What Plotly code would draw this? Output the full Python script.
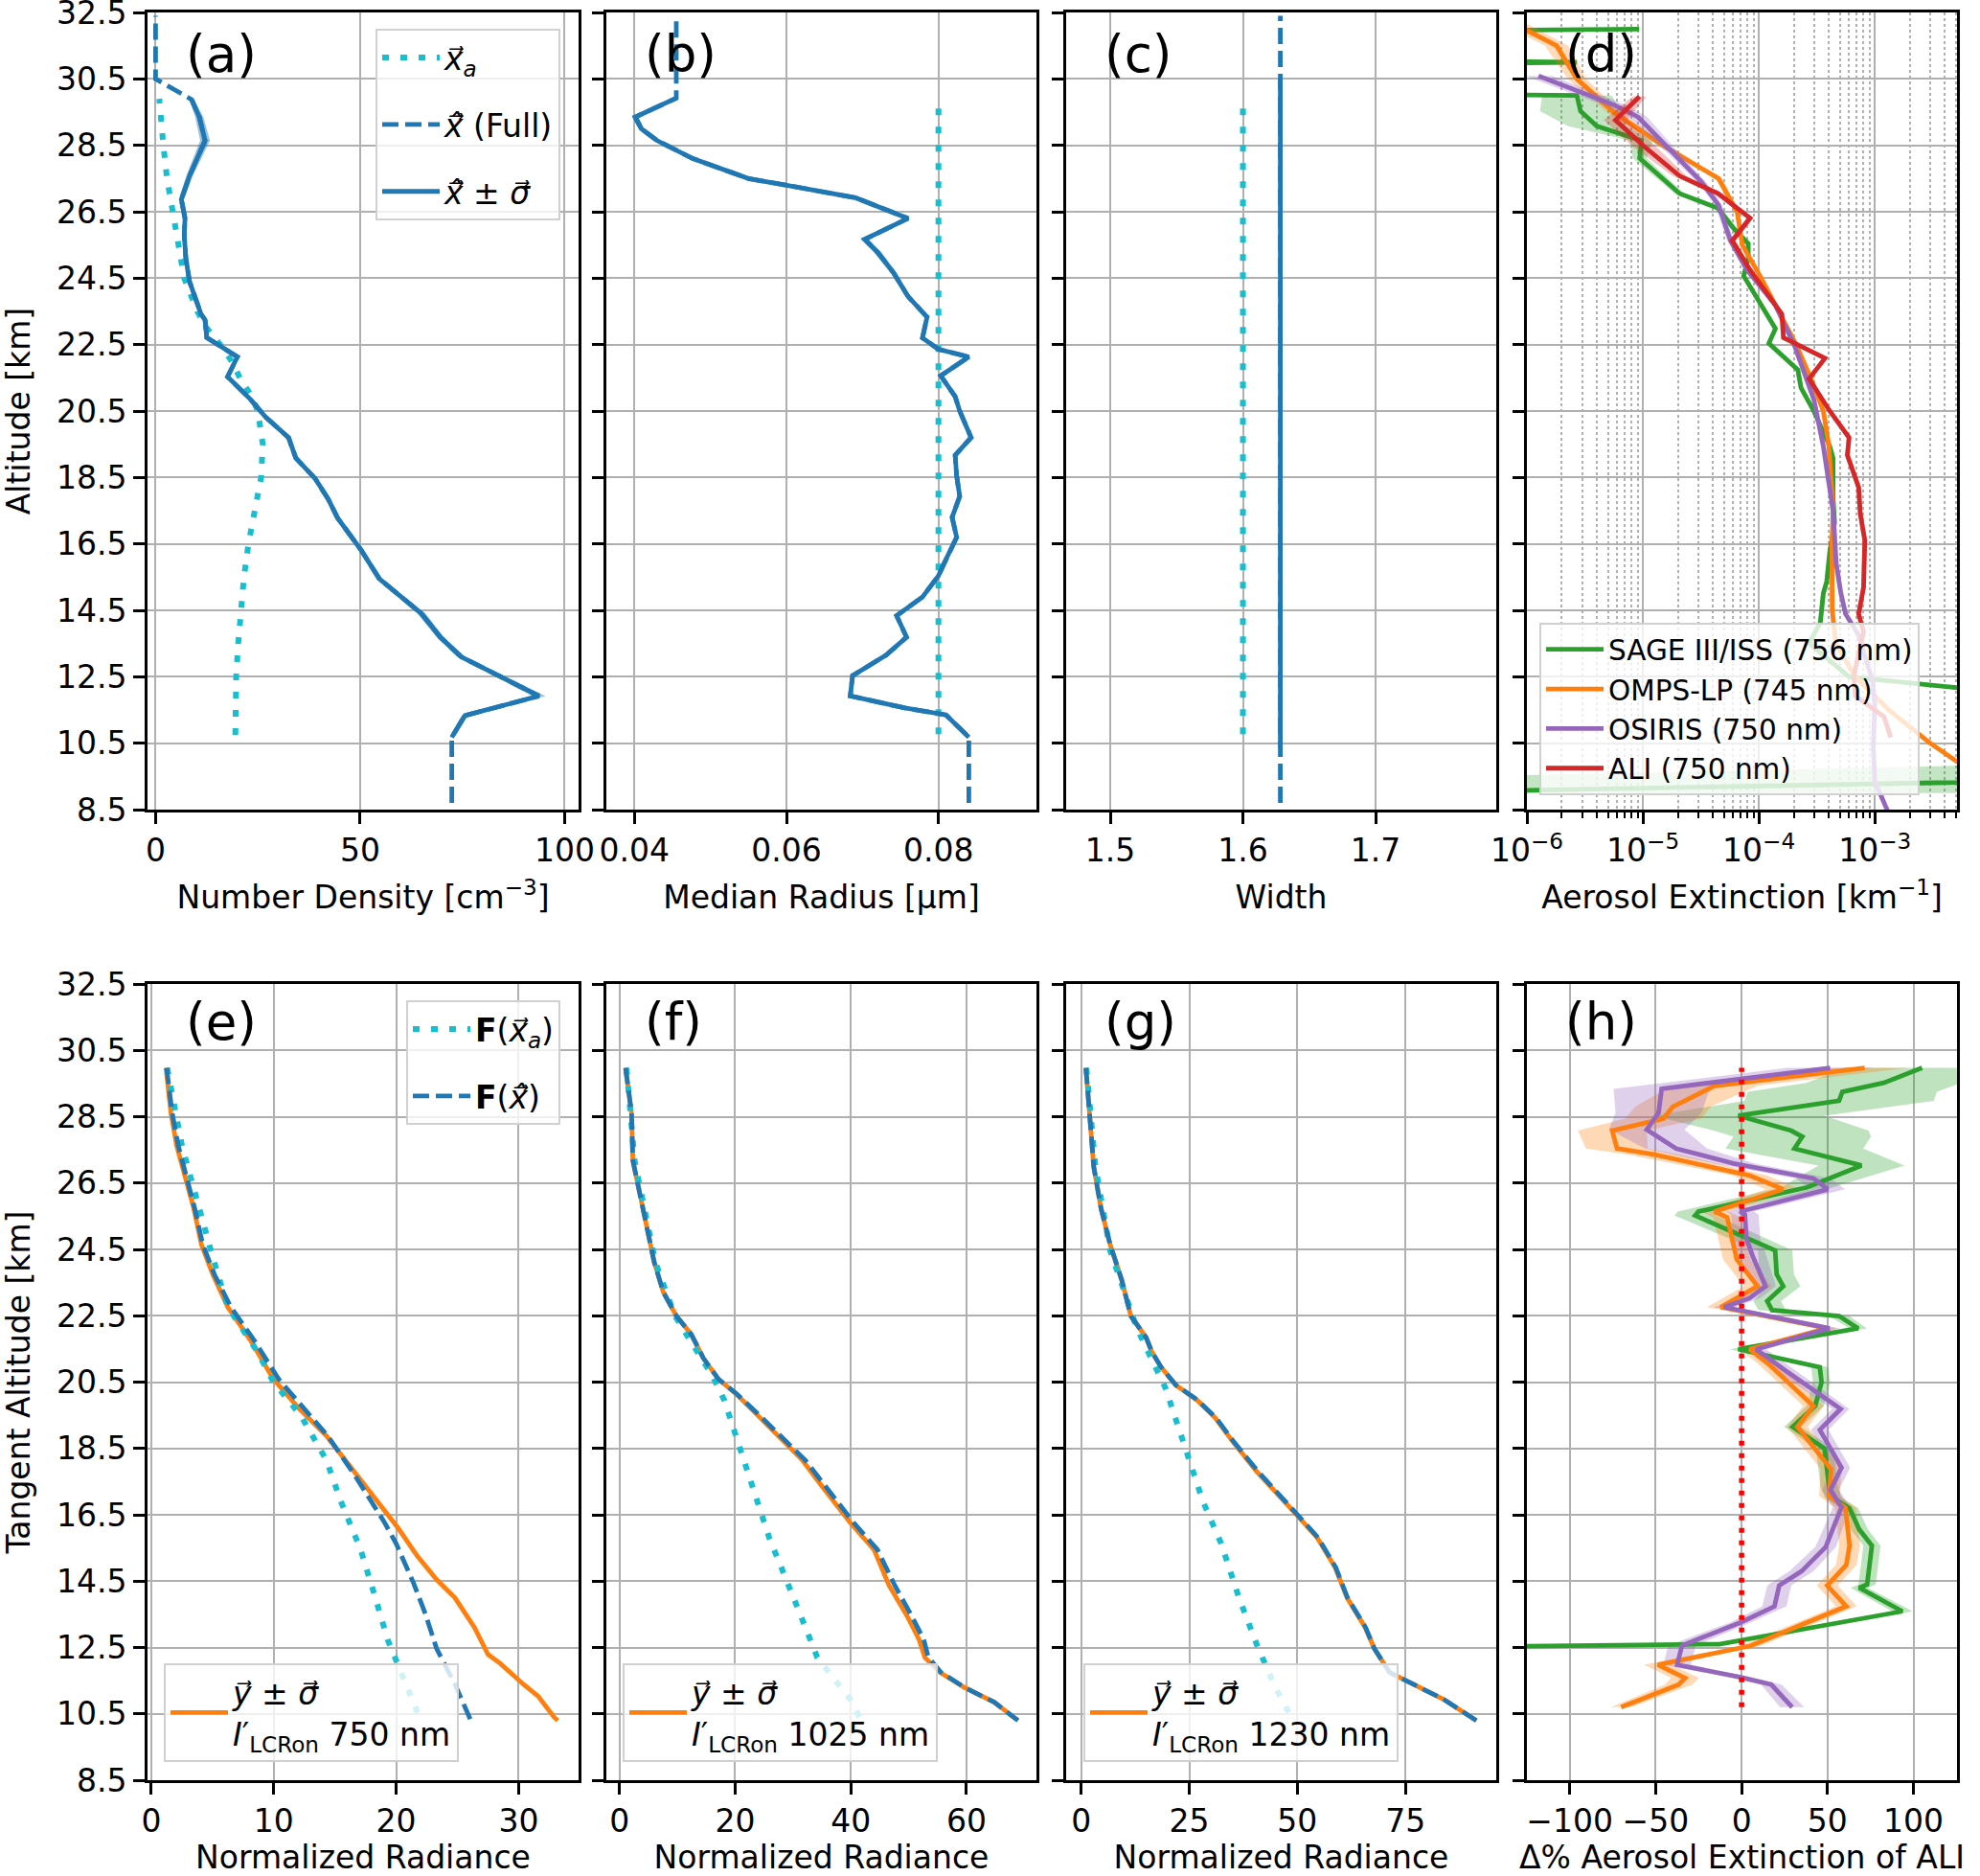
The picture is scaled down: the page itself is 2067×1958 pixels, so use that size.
import plotly.graph_objects as go

# ---------------------------------------------------------------- data
ALT_TICKS = [8.5, 10.5, 12.5, 14.5, 16.5, 18.5, 20.5, 22.5, 24.5, 26.5, 28.5, 30.5, 32.5]

# (a) number density
nd_prior_alt = [10.75, 11.5, 12.5, 13.5, 14.5, 15.5, 16.5, 17.5, 18.5, 19.5, 20.5, 21.0, 21.5, 22.0, 22.5, 23.0, 23.5, 24.5, 25.5, 26.5, 27.5, 28.5, 29.5, 29.9]
nd_prior = [19.5, 19.5, 19.7, 20.2, 20.9, 21.6, 22.7, 24.3, 25.8, 26.2, 25.0, 23.2, 20.6, 18.6, 15.8, 12.5, 10.2, 7.0, 5.6, 4.2, 2.8, 1.9, 1.1, 0.9]
nd_alt = [10.68, 11.33, 11.92, 12.4, 13.1, 13.69, 14.4, 15.45, 16.34, 17.28, 17.85, 18.47, 19.08, 19.7, 20.32, 20.85, 21.53, 22.13, 22.71, 23.24,
          23.42, 24.4, 25.1, 25.8, 26.3, 26.87, 27.58, 28.64, 29.35, 29.88]
nd_ret = [72.4, 75.6, 93.7, 86.0, 74.7, 69.6, 65.0, 54.7, 50.1, 44.5, 42.2, 39.0, 34.3, 32.5, 26.9, 23.2, 17.6, 20.0, 12.5, 12.1,
          11.1, 8.3, 7.4, 7.0, 7.2, 6.3, 8.3, 12.1, 10.7, 8.8]
nd_sig = [0.5, 0.8, 1.6, 1.4, 1.0, 0.9, 1.0, 0.7, 0.6, 0.6, 0.6, 0.6, 0.6, 0.6, 0.5, 0.5, 0.5, 0.5, 0.5, 0.5,
          0.5, 0.5, 0.5, 0.5, 0.5, 0.6, 0.8, 1.2, 1.0, 0.6]
nd_below_alt = [8.7]
nd_below = [72.4]
nd_above_alt = [30.5, 32.4]
nd_above = [0.0, 0.0]

# (b) median radius
rad_prior_alt = [10.77, 29.88]
rad_prior = [0.080, 0.080]
rad_alt = [10.68, 11.35, 11.56, 11.92, 12.53, 13.15, 13.69, 14.34, 14.9, 15.54, 15.9, 16.7, 17.3, 17.93, 18.55, 19.17, 19.7, 20.5, 20.94, 21.56,
           22.13, 22.36, 22.7, 23.33, 23.95, 24.66, 25.28, 25.67, 26.3, 26.92, 27.3, 27.5, 28.1, 28.64, 29.0, 29.35, 29.92]
rad_ret = [0.0840, 0.0810, 0.0756, 0.0684, 0.0687, 0.0731, 0.0758, 0.0745, 0.0779, 0.0800, 0.0807, 0.0824, 0.0818, 0.0828, 0.0824, 0.0822, 0.0843, 0.0828, 0.0822, 0.0803,
           0.0840, 0.0800, 0.0779, 0.0785, 0.0760, 0.0741, 0.0720, 0.0703, 0.0760, 0.0691, 0.0600, 0.0550, 0.0477, 0.0430, 0.0409, 0.0401, 0.0455]
rad_sig = [0.0002, 0.0002, 0.0002, 0.0002, 0.0002, 0.0002, 0.0002, 0.0002, 0.0002, 0.0002, 0.0002, 0.0002, 0.0002, 0.0002, 0.0002, 0.0002, 0.0002, 0.0002, 0.0002, 0.0002,
           0.0002, 0.0002, 0.0002, 0.0002, 0.0003, 0.0004, 0.0005, 0.0005, 0.0003, 0.0003, 0.0003, 0.0003, 0.0003, 0.0003, 0.0004, 0.0004, 0.0002]
rad_below_alt = [8.7]
rad_below = [0.0840]
rad_above_alt = [32.36]
rad_above = [0.0455]

# (c) width
wid_prior_alt = [10.77, 29.88]
wid_prior = [1.60, 1.60]
wid_alt = [10.33, 30.5]
wid_ret = [1.6282, 1.6282]
wid_full_alt = [8.7, 32.4]
wid_full = [1.6282, 1.6282]

# (d) aerosol extinction [km^-1]  (1e-20 marks non-positive values clipped off the log axis)
sage_alt = [32.0, 31.5, 31.0, 30.5, 30.0, 29.53, 29.08, 28.64, 28.11, 27.05, 26.61, 25.99, 25.54, 25.1, 24.57, 23.33, 22.98, 22.54, 21.74, 21.2,
            20.5, 19.44, 19.08, 17.85, 17.14, 16.25, 15.37, 15.01, 14.13, 13.51, 12.5, 12.0, 11.5, 11.0, 10.5, 10.0, 9.5, 9.0]
sage_ext = [9.3e-6, 1e-20, 2.7e-6, 1e-20, 2.7e-6, 2.9e-6, 4.0e-6, 9.7e-6, 9.4e-6, 2.07e-5, 4.44e-5, 6.1e-5, 8.1e-5, 8.1e-5, 7.4e-5, 1.22e-4, 1.39e-4, 1.22e-4, 2.17e-4, 2.31e-4,
            2.98e-4, 4.09e-4, 4.37e-4, 4.37e-4, 4.5e-4, 4.09e-4, 3.85e-4, 3.6e-4, 3.39e-4, 2.71e-4, 6.0e-4, 1.55e-2, 5e-2, 0.2, 0.6, 1.5, 3.1, 5.8e-8]
sage_dex = [0.1, 0.0, 0.2, 0.0, 0.3, 0.35, 0.25, 0.1, 0.06, 0.04, 0.03, 0.03, 0.02, 0.02, 0.02, 0.02, 0.02, 0.02, 0.02, 0.02,
            0.02, 0.02, 0.02, 0.02, 0.02, 0.02, 0.02, 0.02, 0.02, 0.03, 0.03, 0.05, 0.05, 0.05, 0.05, 0.05, 7.0, 7.0]
omps_alt = [32.5, 31.5, 30.5, 29.5, 28.5, 27.5, 26.5, 25.5, 24.5, 23.5, 22.5, 21.5, 20.5, 19.5, 18.5, 17.5, 16.5, 15.5, 14.5, 13.5, 12.5, 11.5, 10.5, 9.5]
omps_ext = [5.0e-7, 1.8e-6, 2.7e-6, 5.6e-6, 1.48e-5, 4.5e-5, 6.5e-5, 7.2e-5, 1.05e-4, 1.48e-4, 2.1e-4, 2.8e-4, 3.6e-4, 4.0e-4, 4.2e-4, 4.37e-4, 4.27e-4, 4.25e-4, 4.3e-4, 4.6e-4, 6.8e-4, 1.32e-3, 3.0e-3, 7.9e-3]
omps_dex = [0.12, 0.1, 0.08, 0.06, 0.04, 0.03, 0.02, 0.02, 0.02, 0.02, 0.02, 0.02, 0.02, 0.02, 0.02, 0.02, 0.02, 0.02, 0.02, 0.02, 0.02, 0.02, 0.02, 0.02]
osiris_alt = [30.59, 29.7, 29.35, 28.29, 27.4, 26.7, 25.63, 24.75, 23.69, 22.45, 20.85, 19.44, 17.49, 15.9, 15.01, 14.39, 13.77, 12.36, 11.65, 10.41, 9.35, 8.46]
osiris_ext = [1.26e-6, 5.8e-6, 9.1e-6, 1.8e-5, 3.2e-5, 4.5e-5, 5.7e-5, 7.9e-5, 1.39e-4, 2.04e-4, 2.98e-4, 3.6e-4, 4.37e-4, 4.65e-4, 5.1e-4, 5.6e-4, 7.2e-4, 9.6e-4, 1.0e-3, 9.7e-4, 1.0e-3, 1.29e-3]
osiris_dex = [0.12, 0.1, 0.08, 0.05, 0.04, 0.03, 0.03, 0.02, 0.02, 0.02, 0.02, 0.02, 0.02, 0.02, 0.02, 0.02, 0.02, 0.02, 0.02, 0.02, 0.02, 0.02]
ali_alt = [29.97, 29.26, 28.46, 27.58, 27.05, 26.31, 25.63, 24.75, 23.42, 22.71, 22.09, 21.47, 20.5, 19.7, 19.17, 18.2, 17.4, 16.61, 15.19, 14.39,
           13.86, 12.53, 11.92, 11.3, 10.68]
ali_ext = [9.35e-6, 5.8e-6, 1.03e-5, 2.07e-5, 4.44e-5, 8.4e-5, 5.9e-5, 8.4e-5, 1.58e-4, 1.63e-4, 3.72e-4, 2.71e-4, 4.09e-4, 6.0e-4, 5.8e-4, 7.26e-4, 7.5e-4, 8.2e-4, 8.0e-4, 7.26e-4,
           8.0e-4, 6.6e-4, 6.8e-4, 1.2e-3, 1.37e-3]
ali_dex = [0.06, 0.1, 0.1, 0.06, 0.04, 0.03, 0.03, 0.02, 0.02, 0.02, 0.02, 0.02, 0.02, 0.02, 0.02, 0.02, 0.02, 0.02, 0.02, 0.02,
           0.02, 0.02, 0.02, 0.02, 0.02]
EXT_TICKS = [1e-6, 1e-5, 1e-4, 1e-3]
EXT_TICK_LABELS = ["10<sup>−6</sup>", "10<sup>−5</sup>", "10<sup>−4</sup>", "10<sup>−3</sup>"]

# (e)-(g) normalized radiance
e_y_alt = [29.97, 28.62, 27.63, 26.64, 25.73, 24.65, 23.75, 22.76, 21.76, 20.59, 19.69, 18.88, 17.7, 16.89, 16.08, 15.27, 14.55, 14.0, 13.1, 12.29, 12.02, 11.39, 11.03, 10.4, 10.3]
e_y = [1.2, 1.6, 2.07, 2.85, 3.47, 4.09, 5.02, 6.25, 8.1, 9.97, 12.1, 14.3, 16.8, 18.6, 20.2, 21.7, 23.3, 24.8, 26.4, 27.5, 28.5, 30.4, 31.6, 32.9, 33.2]
e_fx_alt = [29.97, 28.62, 27.63, 26.64, 25.73, 24.65, 23.75, 22.76, 21.76, 20.59, 19.69, 18.88, 17.7, 17.16, 16.3, 15.63, 14.46, 13.5, 12.47, 11.39, 10.3]
e_fx = [1.25, 1.7, 2.2, 2.9, 3.55, 4.2, 5.15, 6.5, 8.4, 10.4, 12.5, 14.4, 16.6, 17.55, 19.0, 20.0, 21.4, 22.4, 23.3, 24.8, 26.1]
e_fa_alt = [29.97, 27.63, 24.29, 22.76, 21.4, 20.5, 19.5, 18.15, 16.89, 15.45, 14.0, 12.74, 11.66, 10.58, 10.3]
e_fa = [1.3, 2.5, 5.0, 6.25, 8.7, 9.97, 12.2, 14.3, 15.5, 17.1, 18.3, 19.3, 20.5, 21.7, 22.2]

f_y_alt = [29.97, 28.62, 27.18, 26.27, 25.19, 24.11, 23.21, 22.49, 21.94, 21.22, 20.59, 20.14, 19.6, 18.88, 18.15, 17.43, 16.26, 15.45, 14.37, 13.46, 12.74, 12.2, 11.75, 11.3, 10.85, 10.3]
f_y = [1.04, 2.07, 2.3, 3.4, 4.66, 6.0, 7.57, 9.84, 12.4, 14.5, 17.1, 20.2, 23.3, 27.5, 31.6, 34.7, 39.9, 44.0, 46.6, 49.7, 51.8, 52.8, 55.4, 59.6, 64.8, 68.9]
f_fx = [1.04, 2.07, 2.3, 3.4, 4.66, 6.0, 7.57, 9.84, 12.4, 14.5, 17.1, 20.3, 23.6, 27.9, 32.1, 35.3, 40.5, 44.6, 47.6, 50.5, 52.6, 53.4, 55.6, 59.6, 64.8, 68.9]
f_fa_alt = [29.97, 27.18, 24.11, 22.49, 21.4, 20.68, 19.96, 17.97, 15.8, 14.0, 12.2, 10.94, 10.3]
f_fa = [1.2, 2.6, 6.2, 9.6, 13.5, 16.1, 18.1, 21.8, 25.9, 30.1, 34.2, 39.9, 41.8]

g_y_alt = [29.97, 28.44, 27.0, 25.73, 24.65, 23.57, 22.49, 21.85, 21.4, 20.95, 20.41, 19.96, 19.42, 18.7, 17.79, 16.62, 15.81, 14.91, 14.0, 13.1, 12.47, 11.75, 11.39, 10.94, 10.3]
g_y = [1.1, 2.1, 2.9, 4.6, 6.7, 9.4, 11.5, 15.0, 16.4, 18.5, 21.9, 26.8, 31.0, 35.1, 40.7, 49.0, 54.6, 58.75, 61.5, 65.7, 67.8, 71.3, 76.8, 83.8, 91.4]
g_fx = [1.1, 2.1, 2.9, 4.6, 6.7, 9.4, 11.5, 15.0, 16.4, 18.5, 21.9, 26.9, 31.2, 35.3, 41.0, 49.2, 54.8, 58.9, 61.6, 65.8, 67.8, 71.3, 76.8, 83.8, 91.4]
g_fa_alt = [29.97, 27.0, 24.47, 22.12, 20.32, 18.52, 16.89, 15.63, 14.0, 12.56, 11.3, 10.3]
g_fa = [1.2, 3.3, 6.7, 12.9, 19.5, 24.0, 28.2, 32.4, 36.5, 40.7, 44.9, 49.0]

# (h) percent difference relative to ALI
sage_h_alt = [29.97, 29.52, 29.25, 28.98, 28.53, 28.08, 27.9, 27.54, 27.03, 26.37, 25.64, 25.52, 24.47, 23.75, 23.39, 22.94, 22.67, 22.49, 22.12, 21.49,
              20.95, 20.5, 19.78, 19.15, 18.5, 17.35, 17.0, 16.7, 16.06, 15.57, 14.4, 14.3, 13.59, 12.6, 12.45]
sage_h = [105, 82.7, 58.6, 56.7, -1.9, 28.8, 35.3, 30.7, 69.7, 38.1, -25.1, -27.0, 19.5, 20.4, 24.2, 14.9, 17.7, 56.7, 67.8, -1.9,
          45.5, 46.5, 42.8, 29.7, 48.2, 50.9, 53.5, 62.8, 68.4, 75.8, 73.0, 68.4, 93.5, -13.0, -300.0]
sage_h_sig = [45, 45, 55, 55, 50, 45, 40, 40, 25, 15, 12, 12, 10, 10, 10, 8, 8, 6, 5, 5,
              5, 5, 5, 5, 5, 5, 5, 5, 5, 5, 5, 5, 6, 5, 5]
omps_h_alt = [29.97, 29.43, 28.8, 28.44, 28.08, 27.54, 27.36, 26.73, 26.31, 25.64, 25.46, 24.83, 24.2, 23.39, 22.76, 22.12, 21.49, 21.04, 20.41, 19.78,
              19.15, 17.88, 17.07, 16.71, 15.57, 14.99, 14.37, 13.74, 12.55, 11.98, 11.58, 11.38, 10.7]
omps_h = [71.6, -15.8, -40.0, -45.5, -75.3, -72.5, -51.1, 4.6, 24.2, -15.8, -8.4, -5.6, -2.8, 9.3, -12.1, 50.0, 4.6, 15.8, 28.8, 41.8,
          32.5, 52.0, 51.1, 60.4, 62.8, 60.9, 49.8, 60.9, 5.2, -48.7, -32.9, -36.6, -70.1]
omps_h_sig = [25, 25, 22, 22, 20, 18, 15, 10, 10, 8, 8, 8, 8, 8, 8, 6, 6, 6, 6, 6,
              6, 6, 6, 6, 6, 6, 6, 6, 6, 8, 8, 8, 6]
osiris_h_alt = [29.97, 29.34, 28.62, 28.11, 27.54, 27.09, 26.64, 26.31, 25.64, 25.55, 24.83, 24.29, 23.39, 23.03, 22.76, 22.12, 21.49, 20.86, 19.69, 19.06,
                17.92, 17.25, 16.73, 15.53, 14.8, 14.37, 13.74, 13.26, 12.56, 11.98, 11.6, 11.38, 10.7]
osiris_h = [51.5, -46.5, -48.3, -55.2, -38.1, -4.6, 41.8, 50.2, -0.9, 1.9, 2.8, 6.5, 13.9, 4.6, -10.2, 51.1, 8.4, 25.1, 57.6, 45.5,
            58.1, 51.7, 58.1, 48.9, 34.9, 21.9, 19.1, -0.4, -34.7, -37.5, -0.4, 17.3, 29.4]
osiris_h_sig = [25, 28, 25, 22, 18, 12, 10, 10, 8, 8, 8, 8, 6, 6, 6, 6, 6, 6, 5, 5,
                5, 5, 5, 6, 7, 7, 7, 6, 8, 8, 6, 6, 7]
ali_h_alt = [10.7, 29.97]
ali_h = [0.0, 0.0]

# ---------------------------------------------------------------- style
FONT = "DejaVu Sans"
BLUE, CYAN, ORANGE = "#1f77b4", "#17becf", "#ff7f0e"
GREEN, RED, PURPLE = "#2ca02c", "#d62728", "#9467bd"
LW = 4.8
DASH = "17px,7px"
DOT = "7px,12px"
W, H = 2067, 1958
COLS = [(154, 604), (633, 1082), (1113, 1562), (1594, 2043)]
ROWS = [(13, 845), (1027, 1858)]
TICK = 33
LEGF = 33
LEGF_D = 29.5

fig = go.Figure()


def ax(i):
    return ("x" if i == 1 else f"x{i}"), ("y" if i == 1 else f"y{i}")


def line(i, x, y, color, dash="solid", width=LW, name=None, legend=None, group=None):
    xa, ya = ax(i)
    fig.add_trace(go.Scatter(x=x, y=y, mode="lines", xaxis=xa, yaxis=ya,
                             line=dict(color=color, width=width, dash=dash),
                             name=name, showlegend=name is not None,
                             legend=legend or "legend", legendgroup=group,
                             hoverinfo="skip", cliponaxis=True))


def band(i, lo, hi, y, fill):
    xa, ya = ax(i)
    fig.add_trace(go.Scatter(x=list(lo) + list(hi)[::-1], y=list(y) + list(y)[::-1],
                             mode="lines", fill="toself", fillcolor=fill,
                             line=dict(width=0), xaxis=xa, yaxis=ya,
                             showlegend=False, hoverinfo="skip"))


XA = "x\u20d7"           # vector x
XH = "x\u0302\u20d7"     # vector x hat
SIG = "σ\u20d7"
YV = "y\u20d7"

# (a)
band(1, [v - s for v, s in zip(nd_ret, nd_sig)], [v + s for v, s in zip(nd_ret, nd_sig)], nd_alt, "rgba(31,119,180,0.45)")
line(1, nd_prior, nd_prior_alt, CYAN, DOT, 6, name=f"<i>{XA}</i><sub><i>a</i></sub>", legend="legend", group="a1")
line(1, nd_below + nd_ret + nd_above, nd_below_alt + nd_alt + nd_above_alt, BLUE, DASH,
     name=f"<i>{XH}</i> (Full)", legend="legend", group="a2")
line(1, nd_ret, nd_alt, BLUE, name=f"<i>{XH}</i> ± <i>{SIG}</i>", legend="legend", group="a3")

# (b)
band(2, [v - s for v, s in zip(rad_ret, rad_sig)], [v + s for v, s in zip(rad_ret, rad_sig)], rad_alt, "rgba(31,119,180,0.45)")
line(2, rad_prior, rad_prior_alt, CYAN, DOT, 6)
line(2, rad_below + rad_ret + rad_above, rad_below_alt + rad_alt + rad_above_alt, BLUE, DASH)
line(2, rad_ret, rad_alt, BLUE)

# (c)
line(3, wid_prior, wid_prior_alt, CYAN, DOT, 6)
line(3, wid_full, wid_full_alt, BLUE, DASH)
line(3, wid_ret, wid_alt, BLUE)

# (d)
for alt, ext, dex, col, rgba, nm in [
        (sage_alt, sage_ext, sage_dex, GREEN, "rgba(44,160,44,0.28)", "SAGE III/ISS (756 nm)"),
        (omps_alt, omps_ext, omps_dex, ORANGE, "rgba(255,127,14,0.28)", "OMPS-LP (745 nm)"),
        (osiris_alt, osiris_ext, osiris_dex, PURPLE, "rgba(148,103,189,0.28)", "OSIRIS (750 nm)"),
        (ali_alt, ali_ext, ali_dex, RED, "rgba(214,39,40,0.28)", "ALI (750 nm)")]:
    band(4, [v / 10 ** d for v, d in zip(ext, dex)], [v * 10 ** d for v, d in zip(ext, dex)], alt, rgba)
    line(4, ext, alt, col, name=nm, legend="legend2")

# (e)-(g)
for i, ya, yv, fxa, fxv, faa, fav, lg, wl in [
        (5, e_y_alt, e_y, e_fx_alt, e_fx, e_fa_alt, e_fa, "legend4", "750 nm"),
        (6, f_y_alt, f_y, f_y_alt, f_fx, f_fa_alt, f_fa, "legend5", "1025 nm"),
        (7, g_y_alt, g_y, g_y_alt, g_fx, g_fa_alt, g_fa, "legend6", "1230 nm")]:
    line(i, yv, ya, ORANGE, name=f"<i>{YV}</i> ± <i>{SIG}</i><br><i>I</i>′<sub>LCRon</sub> {wl}", legend=lg)
    if i == 5:
        line(i, fav, faa, CYAN, DOT, 6, name=f"<b>F</b>(<i>{XA}</i><sub><i>a</i></sub>)", legend="legend3", group="e1")
        line(i, fxv, fxa, BLUE, DASH, name=f"<b>F</b>(<i>{XH}</i>)", legend="legend3", group="e2")
    else:
        line(i, fav, faa, CYAN, DOT, 6)
        line(i, fxv, fxa, BLUE, DASH)

# (h)
for alt, v, s, col, rgba in [
        (sage_h_alt, sage_h, sage_h_sig, GREEN, "rgba(44,160,44,0.3)"),
        (omps_h_alt, omps_h, omps_h_sig, ORANGE, "rgba(255,127,14,0.3)"),
        (osiris_h_alt, osiris_h, osiris_h_sig, PURPLE, "rgba(148,103,189,0.3)")]:
    band(8, [a - b for a, b in zip(v, s)], [a + b for a, b in zip(v, s)], alt, rgba)
for alt, v, col in [(sage_h_alt, sage_h, GREEN), (omps_h_alt, omps_h, ORANGE), (osiris_h_alt, osiris_h, PURPLE)]:
    line(8, v, alt, col)
line(8, ali_h, ali_h_alt, "#ff0000", "5px,8px", 5.5)

# ---------------------------------------------------------------- axes
xspec = {
    1: dict(range=[-1.97, 103.4], tickvals=[0, 50, 100], title="Number Density [cm<sup>−3</sup>]"),
    2: dict(range=[0.0363, 0.0929], tickvals=[0.04, 0.06, 0.08], ticktext=["0.04", "0.06", "0.08"], title="Median Radius [μm]"),
    3: dict(range=[1.4667, 1.791], tickvals=[1.5, 1.6, 1.7], ticktext=["1.5", "1.6", "1.7"], title="Width"),
    4: dict(type="log", range=[-6, -2.291], tickvals=EXT_TICKS, ticktext=EXT_TICK_LABELS, title="Aerosol Extinction [km<sup>−1</sup>]"),
    5: dict(range=[-0.31, 34.9], tickvals=[0, 10, 20, 30], title="Normalized Radiance"),
    6: dict(range=[-2.28, 72.1], tickvals=[0, 20, 40, 60], title="Normalized Radiance"),
    7: dict(range=[-3.47, 96.0], tickvals=[0, 25, 50, 75], title="Normalized Radiance"),
    8: dict(range=[-124.9, 125.3], tickvals=[-100, -50, 0, 50, 100], title="Δ% Aerosol Extinction of ALI"),
}
common = dict(showline=True, linecolor="black", linewidth=2.6, mirror=True,
              ticks="outside", ticklen=12, tickwidth=2.6, tickcolor="black",
              showgrid=True, gridcolor="#b0b0b0", gridwidth=2.4, zeroline=False,
              automargin=False, ticklabeloverflow="allow",
              tickfont=dict(family=FONT, size=TICK, color="black"))
layout = {}
for i in range(1, 9):
    r = 0 if i <= 4 else 1
    c = (i - 1) % 4
    x0, x1 = COLS[c]
    y0, y1 = ROWS[r]
    xs = dict(xspec[i])
    title = xs.pop("title")
    xd = dict(common, domain=[x0 / W, x1 / W], anchor=("y" if i == 1 else f"y{i}"),
              title=dict(text=title, font=dict(family=FONT, size=TICK, color="black"), standoff=19), **xs)
    if i == 4:
        xd["minor"] = dict(tickvals=[k * 10.0 ** e for e in range(-6, -2) for k in range(2, 10)],
                           ticks="outside", ticklen=6, tickwidth=1.8, tickcolor="black",
                           showgrid=True, gridcolor="#b0b0b0", griddash="dot", gridwidth=1.8)
    yd = dict(common, domain=[1 - y1 / H, 1 - y0 / H], anchor=("x" if i == 1 else f"x{i}"),
              range=[8.5, 32.5], tickvals=ALT_TICKS, ticktext=[f"{t:.1f}" for t in ALT_TICKS],
              showticklabels=(c == 0))
    if c == 0:
        yd["title"] = dict(text="Altitude [km]" if r == 0 else "Tangent Altitude [km]",
                           font=dict(family=FONT, size=TICK, color="black"), standoff=20)
    layout["xaxis" if i == 1 else f"xaxis{i}"] = xd
    layout["yaxis" if i == 1 else f"yaxis{i}"] = yd

leg = dict(bgcolor="rgba(255,255,255,0.8)", bordercolor="#d0d0d0", borderwidth=2,
           font=dict(family=FONT, size=LEGF, color="black"), orientation="v")
layout["legend"] = dict(leg, x=585 / W, y=1 - 30 / H, xanchor="right", yanchor="top", tracegroupgap=24, itemwidth=60)
layout["legend2"] = dict(leg, x=1607 / W, y=1 - 830 / H, xanchor="left", yanchor="bottom", itemwidth=60,
                         font=dict(family=FONT, size=LEGF_D, color="black"))
layout["legend3"] = dict(leg, x=585 / W, y=1 - 1044 / H, xanchor="right", yanchor="top", tracegroupgap=24, itemwidth=60)
layout["legend4"] = dict(leg, x=171 / W, y=1 - 1839 / H, xanchor="left", yanchor="bottom", itemwidth=60)
layout["legend5"] = dict(leg, x=650 / W, y=1 - 1839 / H, xanchor="left", yanchor="bottom", itemwidth=60)
layout["legend6"] = dict(leg, x=1131 / W, y=1 - 1839 / H, xanchor="left", yanchor="bottom", itemwidth=60)

annos = []
for i, lab in enumerate(["(a)", "(b)", "(c)", "(d)", "(e)", "(f)", "(g)", "(h)"], start=1):
    xa, ya = ax(i)
    annos.append(dict(text=lab, xref=f"{xa} domain", yref=f"{ya} domain", x=0.085,
                      y=0.948 if i <= 4 else 0.952, xanchor="left", yanchor="middle",
                      showarrow=False, font=dict(family=FONT, size=53, color="black")))

fig.update_layout(width=W, height=H, margin=dict(l=0, r=0, t=0, b=0, autoexpand=False),
                  paper_bgcolor="white", plot_bgcolor="white",
                  font=dict(family=FONT, size=TICK, color="black"),
                  annotations=annos, **layout)

fig.write_html("out.html", config={"displayModeBar": False},
               post_script="document.body.style.margin='0';document.body.style.overflow='hidden';")
